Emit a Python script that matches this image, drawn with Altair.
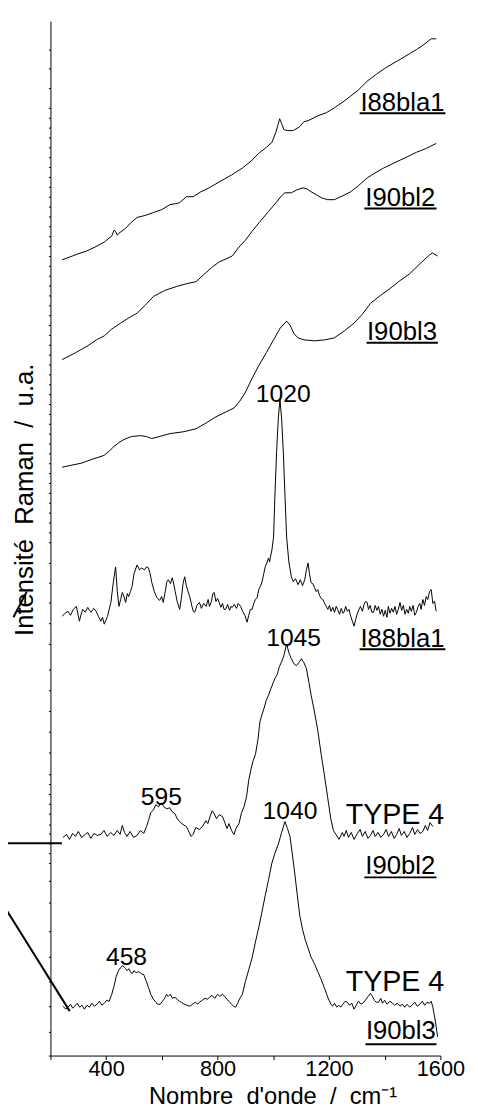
import altair as alt
import pandas as pd

# ---- spectra: (wavenumber cm-1, intensity u.a. incl. vertical offset) ----
I88BLA1_RAW = [(242,806),(270,809),(298,812),(330,815),(360,819),(393,824),(410,828),(420,830),(428,836),(434,835),
               (440,831),(446,833),(470,838),(490,844),(511,849),(540,851),(570,854),(600,857),(629,862),(650,863),
               (664,864),(676,867),(688,870),(712,870),(740,875),(770,879),(806,885),(850,892),(889,899),(920,906),
               (948,914),(975,920),(995,925),(1009,935),(1016,942),(1023,949),(1030,944),(1038,938),(1050,937),
               (1072,937),(1095,941),(1110,946),(1125,947),(1160,952),(1190,955),(1219,960),(1250,966),(1278,972),
               (1305,978),(1337,987),(1370,994),(1400,1000),(1430,1005),(1455,1009),(1490,1015),(1514,1019),
               (1540,1024),(1567,1030),(1585,1030)]

I90BL2_RAW = [(242,705),(290,712),(334,719),(365,725),(393,729),(420,736),(452,742),(480,747),(511,752),(540,760),
              (570,769),(610,775),(652,779),(690,782),(723,784),(750,791),(782,799),(806,804),(830,807),(853,810),
              (877,819),(900,826),(924,835),(950,844),(983,855),(1010,864),(1030,871),(1042,874),(1065,874),
              (1085,877),(1107,879),(1120,878),(1136,875),(1155,872),(1172,869),(1195,867),(1219,867),(1250,871),
              (1278,875),(1305,881),(1337,889),(1365,894),(1396,899),(1425,903),(1455,907),(1485,911),(1514,915),
              (1550,919),(1585,924)]

I90BL3_RAW = [(242,596),(275,598),(310,600),(350,604),(393,608),(410,612),(428,617),(446,621),(464,624),(490,627),
              (523,628),(545,627),(564,625),(590,627),(629,630),(680,632),(723,635),(760,641),(794,647),(830,652),
              (859,656),(880,663),(900,672),(924,686),(948,699),(975,712),(1001,725),(1025,737),(1048,744),
              (1060,740),(1075,731),(1089,727),(1110,725),(1148,724),(1185,725),(1219,727),(1255,734),(1290,742),
              (1320,751),(1349,762),(1385,770),(1419,777),(1455,785),(1490,792),(1530,803),(1561,811),(1571,813),
              (1590,810)]

I88BLA1_SUB = [(242,445),(252,448),(263,450),(272,446),(282,452),(293,455),(304,440),(310,447),(316,452),(325,449),
               (334,454),(340,451),(346,449),(355,453),(364,450),(372,445),(381,440),(387,444),(393,437),(399,441),
               (405,445),(411,452),(417,459),(426,480),(434,495),(440,470),(446,455),(452,462),(458,469),(464,465),
               (470,459),(476,468),(481,465),(487,470),(493,475),(500,488),(511,497),(520,492),(528,494),(537,492),
               (545,495),(552,494),(558,488),(564,479),(573,470),(582,464),(592,461),(599,465),(605,459),(612,470),
               (618,480),(623,482),(631,478),(637,484),(641,480),(648,470),(655,460),(664,452),(670,463),(676,478),
               (682,485),(688,476),(694,470),(700,465),(708,455),(713,450),(718,449),(726,456),(735,459),(742,453),
               (750,458),(759,455),(766,462),(771,455),(778,460),(783,468),(788,469),(794,460),(800,463),(806,459),
               (812,454),(818,458),(823,452),(829,452),(836,457),(843,451),(848,455),(853,454),(860,457),(868,453),
               (874,458),(883,455),(890,450),(898,446),(906,439),(912,446),(918,452),(924,452),(930,458),(936,462),
               (942,464),(948,472),(953,475),(959,479),(965,487),(971,495),(977,499),(983,504),(987,500),(989,504),
               (995,512),(1001,525),(1006,568),(1012,612),(1018,645),(1024,665),(1030,645),(1036,612),(1042,568),
               (1048,525),(1056,500),(1065,485),(1072,480),(1080,483),(1089,477),(1097,482),(1105,476),(1113,482),
               (1119,492),(1125,499),(1130,488),(1136,479),(1142,478),(1148,474),(1154,470),(1160,472),(1166,466),
               (1172,463),(1178,462),(1183,459),(1190,455),(1196,452),(1202,456),(1207,450),(1214,454),(1220,449),
               (1226,455),(1231,452),(1238,447),(1244,453),(1250,448),(1254,449),(1260,455),(1266,450),(1272,452),
               (1278,445),(1284,440),(1290,435),(1296,442),(1302,448),(1308,452),(1313,455),(1320,450),(1326,457),
               (1331,460),(1337,459),(1342,452),(1348,456),(1354,449),(1360,449),(1366,456),(1372,451),(1378,455),
               (1384,447),(1390,452),(1396,445),(1402,451),(1408,444),(1413,455),(1419,448),(1425,453),(1431,449),
               (1437,455),(1443,447),(1449,452),(1455,459),(1461,451),(1467,456),(1473,447),(1479,452),(1485,448),
               (1490,455),(1496,450),(1502,456),(1508,446),(1514,449),(1520,455),(1526,458),(1531,452),(1537,462),
               (1543,456),(1549,465),(1555,462),(1561,470),(1567,472),(1573,458),(1579,460),(1585,450)]

I90BL2_SUB = [(245,221),(258,224),(268,219),(280,225),(290,222),(300,227),(312,221),(325,224),(334,226),(345,220),
              (356,225),(368,223),(381,224),(392,228),(404,222),(416,226),(428,223),(440,228),(450,224),(458,233),
              (466,226),(475,222),(486,227),(498,221),(511,223),(523,228),(535,225),(545,232),(552,238),(560,246),
              (570,249),(578,254),(588,252),(598,256),(607,252),(617,250),(628,251),(637,247),(647,245),(655,240),
              (664,237),(676,234),(688,232),(698,226),(705,222),(712,224),(722,231),(735,229),(748,233),(758,238),
              (765,235),(774,243),(781,248),(788,245),(796,240),(806,244),(818,242),(826,236),(834,230),(841,235),
              (850,228),(859,224),(866,230),(877,235),(886,246),(895,252),(904,262),(912,279),(920,290),(928,299),
              (936,305),(945,320),(952,338),(959,345),(967,352),(975,360),(983,365),(992,372),(1000,378),(1006,382),
              (1014,386),(1022,394),(1030,399),(1038,405),(1048,417),(1056,408),(1065,402),(1074,397),(1083,395),
              (1092,398),(1101,402),(1110,398),(1119,392),(1128,378),(1136,365),(1148,348),(1160,329),(1172,305),
              (1183,285),(1195,262),(1207,239),(1216,228),(1225,224),(1236,219),(1248,226),(1254,222),(1262,228),
              (1270,221),(1280,226),(1290,219),(1302,225),(1312,229),(1320,222),(1330,227),(1340,220),(1349,223),
              (1358,228),(1366,222),(1376,226),(1386,221),(1396,224),(1405,229),(1414,222),(1424,227),(1434,220),
              (1443,224),(1452,230),(1460,223),(1470,227),(1480,221),(1490,225),(1500,231),(1508,224),(1518,229),
              (1527,225),(1537,227),(1546,233),(1554,228),(1563,236),(1573,232)]

I90BL3_SUB = [(245,50),(255,47),(263,49),(272,52),(280,48),(287,50),(296,53),(305,49),(313,51),(322,47),(331,51),
              (340,49),(349,53),(358,50),(367,52),(376,55),(385,51),(393,53),(402,56),(411,55),(420,62),(428,70),
              (436,80),(444,86),(452,89),(458,91),(464,90),(470,88),(476,86),(481,88),(487,85),(494,83),(500,86),
              (508,84),(517,85),(526,83),(535,82),(543,76),(552,69),(560,62),(570,57),(578,54),(586,52),(594,52),
              (602,55),(610,58),(617,62),(623,60),(630,62),(638,58),(647,59),(655,57),(663,55),(670,54),(680,52),
              (690,51),(700,50),(710,52),(720,54),(728,52),(735,54),(745,56),(755,58),(763,57),(771,59),(780,61),
              (790,58),(800,62),(808,60),(818,62),(826,60),(833,57),(841,55),(850,52),(858,50),(865,49),(872,53),
              (880,58),(889,62),(900,75),(912,87),(924,99),(936,115),(948,130),(959,145),(971,162),(983,178),
              (995,195),(1006,205),(1018,214),(1030,226),(1042,237),(1051,230),(1060,222),(1068,205),(1077,185),
              (1086,163),(1095,142),(1105,128),(1115,117),(1125,109),(1135,100),(1148,93),(1160,85),(1172,77),
              (1183,69),(1192,62),(1200,56),(1207,52),(1213,50),(1220,53),(1228,49),(1235,51),(1242,49),(1250,52),
              (1258,55),(1266,54),(1274,51),(1282,53),(1290,47),(1298,51),(1306,55),(1315,52),(1325,54),(1333,57),
              (1341,60),(1349,63),(1356,60),(1363,56),(1370,54),(1378,54),(1386,58),(1392,53),(1400,56),(1408,52),
              (1419,55),(1428,53),(1436,51),(1445,53),(1455,50),(1463,52),(1472,49),(1480,52),(1490,49),(1498,51),
              (1508,54),(1517,50),(1526,52),(1535,55),(1544,51),(1552,54),(1561,53),(1567,55),(1573,49),(1582,35),
              (1590,19)]

SPECTRA = {"I88bla1 brut": I88BLA1_RAW, "I90bl2 brut": I90BL2_RAW, "I90bl3 brut": I90BL3_RAW,
           "I88bla1": I88BLA1_SUB, "I90bl2": I90BL2_SUB, "I90bl3": I90BL3_SUB}

# sample names (underlined)
NAME_TEXT = ["I88bla1", "I90bl2", "I90bl3", "I88bla1", "I90bl2", "I90bl3"]
NAME_WN = [1464, 1456, 1462, 1464, 1456, 1458]
NAME_Y = [957, 861, 725, 414, 184, 17]
ULINE_WN1 = [1310, 1327, 1335, 1310, 1327, 1331]
ULINE_WN2 = [1618, 1586, 1591, 1618, 1586, 1586]
ULINE_Y = [954.5, 858, 722, 411.5, 180.5, 11.5]

# peak annotations
PEAK_TEXT = ["1020", "1045", "595", "1040", "458"]
PEAK_WN = [1036, 1073, 598, 1060, 473]
PEAK_Y = [662, 415, 254, 240, 91.5]

TYPE_TEXT = ["TYPE 4", "TYPE 4"]
TYPE_WN = [1437, 1437]
TYPE_Y = [235, 65]

# leftover strokes of the original figure (data coordinates, outside the frame)
STROKE_ID = ["h", "h", "d", "d", "s", "s"]
STROKE_WN = [21, 241, 21, 269, 67, 115]
STROKE_Y = [215, 215, 157, 45, 444, 470]

X_TICKS = [200, 400, 600, 800, 1000, 1200, 1400, 1600]
Y_TICKS = [1019, 1000, 980] + list(range(960, 519, -10)) + [499, 479, 459, 438, 417, 391, 370, 349, 328, 307,
           285, 275, 265, 255, 245, 234, 225, 215, 205, 195, 177, 155, 126, 100, 75, 50, 24, 0]

FONT = "Liberation Sans"

rows = []
for name, pts in SPECTRA.items():
    for wn, v in pts:
        rows.append({"wn": wn, "inten": v, "series": name})
spec_df = pd.DataFrame(rows)

names_df = pd.DataFrame({"label": NAME_TEXT, "wn": NAME_WN, "inten": NAME_Y})
uline_df = pd.DataFrame({"wn": ULINE_WN1, "wn2": ULINE_WN2, "inten": ULINE_Y})
peaks_df = pd.DataFrame({"label": PEAK_TEXT, "wn": PEAK_WN, "inten": PEAK_Y})
types_df = pd.DataFrame({"label": TYPE_TEXT, "wn": TYPE_WN, "inten": TYPE_Y})
stroke_df = pd.DataFrame({"id": STROKE_ID, "wn": STROKE_WN, "inten": STROKE_Y})

xs = alt.Scale(domain=[200, 1600], nice=False, zero=False)
ys = alt.Scale(domain=[0, 1048], nice=False, zero=False)

x_axis = alt.Axis(values=X_TICKS, format="d",
                  labelExpr="datum.value % 400 == 0 ? datum.label : ''",
                  title="Nombre\u00a0\u00a0d'onde\u00a0\u00a0/\u00a0\u00a0cm\u207b\u00b9",
                  titleX=225, titleY=49, titleAlign="center", titleBaseline="alphabetic",
                  titleFontSize=24, titleFontWeight="normal", titleFont=FONT, titleColor="black",
                  labelFontSize=22, labelFont=FONT, labelColor="black", labelBaseline="alphabetic",
                  labelPadding=16, labelOverlap=False, labelFlush=False,
                  tickSize=4, tickColor="black", tickWidth=1, domainColor="black", domainWidth=1, grid=False)
y_axis = alt.Axis(values=Y_TICKS, labels=False,
                  title="Intensit\u00e9\u00a0\u00a0Raman\u00a0\u00a0/\u00a0\u00a0u.a.",
                  titleX=-18, titleY=484.5, titleAngle=270, titleAlign="center", titleBaseline="alphabetic",
                  titleFontSize=26, titleFontWeight="normal", titleFont=FONT, titleColor="black",
                  tickSize=2, tickColor="black", tickWidth=1, domainColor="black", domainWidth=1, grid=False)

X = alt.X("wn:Q", scale=xs, axis=x_axis)
Y = alt.Y("inten:Q", scale=ys, axis=y_axis)

lines = alt.Chart(spec_df).mark_line(color="black", strokeWidth=1).encode(
    x=X, y=Y, detail="series:N", order="wn:Q")

strokes = alt.Chart(stroke_df).mark_line(color="black", strokeWidth=2).encode(
    x=X, y=Y, detail="id:N")

names = alt.Chart(names_df).mark_text(font=FONT, fontSize=26, align="center", baseline="alphabetic",
                                      color="black").encode(x=X, y=Y, text="label:N")

ulines = alt.Chart(uline_df).mark_rule(color="black", strokeWidth=2).encode(
    x=X, x2="wn2:Q", y=Y)

peaks = alt.Chart(peaks_df).mark_text(font=FONT, fontSize=25, align="center", baseline="alphabetic",
                                      color="black").encode(x=X, y=Y, text="label:N")

types = alt.Chart(types_df).mark_text(font=FONT, fontSize=29, align="center", baseline="alphabetic",
                                      color="black").encode(x=X, y=Y, text="label:N")

chart = alt.layer(lines, strokes, ulines, names, peaks, types).properties(
    width=395, height=1048,
    autosize=alt.AutoSizeParams(type="none"),
    padding={"left": 43, "top": 6, "right": 30, "bottom": 50},
    background="white",
).configure(font=FONT).configure_view(stroke=None)

chart.save("out.html", embed_options={"renderer": "svg", "actions": False})
